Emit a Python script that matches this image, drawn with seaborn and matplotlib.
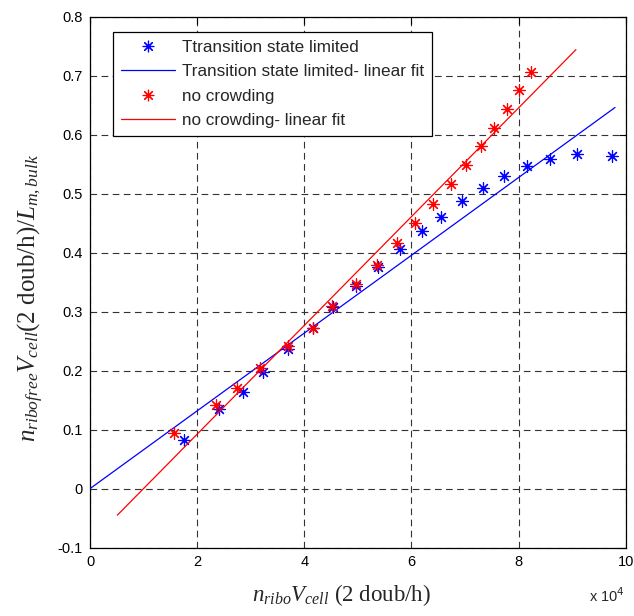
import matplotlib
matplotlib.use("Agg")
import matplotlib.pyplot as plt
import seaborn as sns
import pandas as pd
import numpy as np

# ---- data (x in units of 10^4) ----
blue_x = [1.76, 2.41, 2.85, 3.22, 3.70, 4.17, 4.53, 4.96, 5.37, 5.78,
          6.19, 6.56, 6.94, 7.34, 7.72, 8.15, 8.58, 9.09, 9.75]
blue_y = [0.083, 0.135, 0.163, 0.197, 0.237, 0.272, 0.308, 0.343, 0.376, 0.406,
          0.436, 0.461, 0.487, 0.510, 0.530, 0.547, 0.558, 0.567, 0.564]
red_x = [1.57, 2.36, 2.74, 3.18, 3.69, 4.17, 4.51, 4.96, 5.36, 5.73,
         6.07, 6.40, 6.74, 7.01, 7.29, 7.54, 7.79, 8.01, 8.24]
red_y = [0.095, 0.141, 0.170, 0.205, 0.241, 0.273, 0.310, 0.346, 0.379, 0.416,
         0.451, 0.482, 0.517, 0.549, 0.581, 0.612, 0.644, 0.676, 0.706]
blue_fit_x = [0.0, 9.8]
blue_fit_y = [0.0, 0.646]
red_fit_x = [0.51, 9.07]
red_fit_y = [-0.045, 0.744]

labels = ["Ttransition state limited", "Transition state limited- linear fit",
          "no crowding", "no crowding- linear fit"]
x_ticks = [0, 2, 4, 6, 8, 10]
y_ticks = [-0.1, 0, 0.1, 0.2, 0.3, 0.4, 0.5, 0.6, 0.7, 0.8]
y_ticklabels = ["-0.1", "0", "0.1", "0.2", "0.3", "0.4", "0.5", "0.6", "0.7", "0.8"]

sns.set_style("white")
plt.rcParams["font.family"] = ["Liberation Sans", "DejaVu Sans"]
plt.rcParams["mathtext.fontset"] = "custom"
plt.rcParams["mathtext.rm"] = "Liberation Serif"
plt.rcParams["mathtext.it"] = "Liberation Serif:italic"

fig = plt.figure(figsize=(6.34, 6.16), dpi=100)
ax = fig.add_axes([0.142, 0.111, 0.845, 0.862])

df_blue = pd.DataFrame({"x": blue_x, "y": blue_y})
df_red = pd.DataFrame({"x": red_x, "y": red_y})
df_bfit = pd.DataFrame({"x": blue_fit_x, "y": blue_fit_y})
df_rfit = pd.DataFrame({"x": red_fit_x, "y": red_fit_y})

ast = (8, 2, 0)
sns.scatterplot(data=df_blue, x="x", y="y", ax=ax, marker=ast, s=70,
                color="#0000ff", linewidth=0.85, zorder=3)
sns.lineplot(data=df_bfit, x="x", y="y", ax=ax, color="#0000ff", linewidth=0.9, zorder=3)
sns.scatterplot(data=df_red, x="x", y="y", ax=ax, marker=ast, s=70,
                color="#ff0000", linewidth=0.85, zorder=3)
sns.lineplot(data=df_rfit, x="x", y="y", ax=ax, color="#ff0000", linewidth=0.9, zorder=3)

ax.set_xlim(0, 10)
ax.set_ylim(-0.1, 0.8)
ax.set_xticks(x_ticks)
ax.set_xticklabels([str(t) for t in x_ticks])
ax.set_yticks(y_ticks)
ax.set_yticklabels(y_ticklabels)
ax.tick_params(direction="in", length=5, width=0.8, top=True, right=True,
               labelsize=10.5, pad=5, colors="black")
for s in ax.spines.values():
    s.set_color("black")
    s.set_linewidth(0.9)
    s.set_visible(True)
ax.grid(True, color="#333333", linestyle=(0, (6, 4)), linewidth=0.8, zorder=1)
ax.set_axisbelow(True)

ax.set_xlabel(r"$n_{ribo}V_{cell}$ (2 doub/h)", fontsize=16.5, family="Liberation Serif")
ax.xaxis.set_label_coords(0.47, -0.064)
ax.set_ylabel(r"$n_{ribofree}V_{cell}$(2 doub/h)/$L_{m,bulk}$", fontsize=18,
              family="Liberation Serif")
ax.yaxis.set_label_coords(-0.082, 0.47)
fig.text(0.957, 0.023, r"x 10$^{4}$", fontsize=10.5, ha="center", va="baseline",
         family="Liberation Sans", math_fontfamily="dejavusans")

lns = ax.get_lines()
handles = [
    plt.Line2D([], [], linestyle="", marker=ast, markersize=8.3, color="#0000ff", markeredgewidth=0.85),
    lns[0],
    plt.Line2D([], [], linestyle="", marker=ast, markersize=8.3, color="#ff0000", markeredgewidth=0.85),
    lns[1],
]
leg = ax.legend(handles, labels, loc="upper left", bbox_to_anchor=(0.043, 0.971),
                borderaxespad=0, fontsize=12.3, frameon=True, fancybox=False,
                edgecolor="black", framealpha=1, handlelength=3.2, handletextpad=0.4,
                labelspacing=0.55, borderpad=0.45)
leg.get_frame().set_linewidth(0.9)
leg.set_zorder(5)

fig.savefig("out.png", dpi=100, facecolor="white")
